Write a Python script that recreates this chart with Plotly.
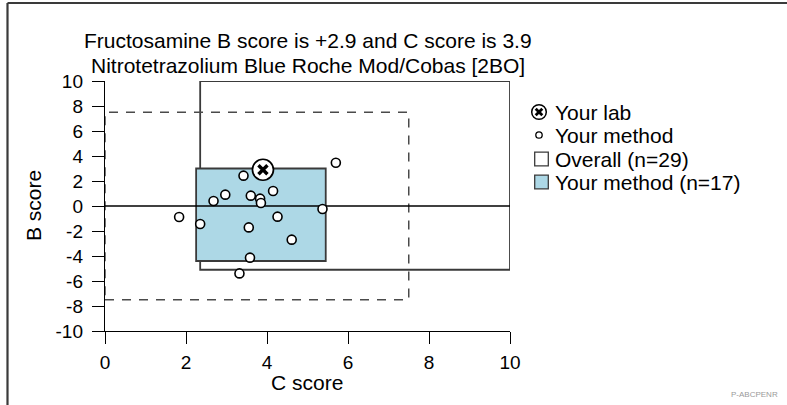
import plotly.graph_objects as go

# ---- data -------------------------------------------------------------
lab_c = [3.9]
lab_b = [2.9]

method_c = [5.70, 3.42, 2.97, 2.68, 3.60, 3.83, 3.85, 4.15, 1.83,
            2.35, 3.55, 4.26, 5.37, 4.61, 3.58, 3.32]
method_b = [3.46, 2.43, 0.91, 0.40, 0.83, 0.59, 0.24, 1.20, -0.88,
            -1.44, -1.71, -0.85, -0.24, -2.69, -4.13, -5.39]

overall_c_range = [2.35, 10.0]
overall_b_range = [-5.1, 10.0]
method_c_range = [2.25, 5.45]
method_b_range = [-4.4, 3.0]
limit_c_range = [0.0, 7.5]
limit_b_range = [-7.5, 7.5]

x_ticks = [0, 2, 4, 6, 8, 10]
x_tick_labels = ["0", "2", "4", "6", "8", "10"]
y_ticks = [-10, -8, -6, -4, -2, 0, 2, 4, 6, 8, 10]
y_tick_labels = ["-10", "-8", "-6", "-4", "-2", "0", "2", "4", "6", "8", "10"]

title_lines = ["Fructosamine B score is +2.9 and C score is 3.9",
               "Nitrotetrazolium Blue Roche Mod/Cobas [2BO]"]
legend_labels = ["Your lab", "Your method", "Overall (n=29)", "Your method (n=17)"]

# ---- layout geometry ----------------------------------------------------
W, H = 787, 405
L, R, T, B = 105, 277, 81, 74
PW, PH = W - L - R, H - T - B
FONT = "Liberation Sans, Arial, Helvetica, sans-serif"
BOX_BLUE = "#ADD8E6"
INK = "#3a3a3a"
TXT = 21


def px_x(p):
    return (p - L) / PW


def px_y(p):
    return (H - B - p) / PH


fig = go.Figure()

# your-method points
fig.add_trace(go.Scatter(
    x=method_c, y=method_b, mode="markers", showlegend=False,
    marker=dict(symbol="circle", size=9, color="white",
                line=dict(color="black", width=1.6)),
    hoverinfo="skip"))

# your lab: circled cross
fig.add_trace(go.Scatter(
    x=lab_c, y=lab_b, mode="markers", showlegend=False,
    marker=dict(symbol="circle", size=21, color="white",
                line=dict(color="black", width=1.7)),
    hoverinfo="skip"))
fig.add_trace(go.Scatter(
    x=lab_c, y=lab_b, mode="markers", showlegend=False,
    marker=dict(symbol="x-thin", size=9, color="black",
                line=dict(color="black", width=3.4)),
    hoverinfo="skip"))

shapes = []
# overall box
shapes.append(dict(type="rect", xref="x", yref="y", layer="below",
                   x0=overall_c_range[0], x1=overall_c_range[1],
                   y0=overall_b_range[0], y1=overall_b_range[1],
                   line=dict(color=INK, width=1.8), fillcolor="rgba(0,0,0,0)"))
# acceptance limits (dashed)
shapes.append(dict(type="rect", xref="x", yref="y", layer="below",
                   x0=limit_c_range[0], x1=limit_c_range[1],
                   y0=limit_b_range[0], y1=limit_b_range[1],
                   line=dict(color="#4a4a4a", width=1.5, dash="9px,8px"),
                   fillcolor="rgba(0,0,0,0)"))
# your-method box
shapes.append(dict(type="rect", xref="x", yref="y", layer="below",
                   x0=method_c_range[0], x1=method_c_range[1],
                   y0=method_b_range[0], y1=method_b_range[1],
                   line=dict(color=INK, width=1.8), fillcolor=BOX_BLUE))
# zero reference line
shapes.append(dict(type="line", xref="x", yref="y", layer="below",
                   x0=0, x1=10, y0=0, y1=0,
                   line=dict(color="black", width=1.5)))

# page frame (top and left edges)
shapes.append(dict(type="line", xref="paper", yref="paper",
                   x0=px_x(7.5), x1=px_x(W + 5), y0=px_y(3), y1=px_y(3),
                   line=dict(color=INK, width=2.2)))
shapes.append(dict(type="line", xref="paper", yref="paper",
                   x0=px_x(7.5), x1=px_x(7.5), y0=px_y(3), y1=px_y(H + 5),
                   line=dict(color=INK, width=2.2)))

# legend keys
rows = [112, 135, 159, 182]
ky = [px_y(r) for r in rows]
cx = px_x(539)
sx = px_x(541.5)
# circled cross
shapes.append(dict(type="circle", xref="paper", yref="paper",
                   xsizemode="pixel", ysizemode="pixel",
                   xanchor=cx, yanchor=ky[0], x0=-7.3, x1=7.3, y0=-7.3, y1=7.3,
                   line=dict(color="black", width=1.5), fillcolor="white"))
for s in (1, -1):
    shapes.append(dict(type="line", xref="paper", yref="paper",
                       xsizemode="pixel", ysizemode="pixel",
                       xanchor=cx, yanchor=ky[0], x0=-3.3, x1=3.3,
                       y0=-3.3 * s, y1=3.3 * s,
                       line=dict(color="black", width=2.8)))
# small open circle
shapes.append(dict(type="circle", xref="paper", yref="paper",
                   xsizemode="pixel", ysizemode="pixel",
                   xanchor=cx, yanchor=ky[1], x0=-3.2, x1=3.2, y0=-3.2, y1=3.2,
                   line=dict(color="black", width=1.3), fillcolor="white"))
# open square
shapes.append(dict(type="rect", xref="paper", yref="paper",
                   xsizemode="pixel", ysizemode="pixel",
                   xanchor=sx, yanchor=ky[2], x0=-6.8, x1=6.8, y0=-6.8, y1=6.8,
                   line=dict(color=INK, width=1.3), fillcolor="white"))
# filled square
shapes.append(dict(type="rect", xref="paper", yref="paper",
                   xsizemode="pixel", ysizemode="pixel",
                   xanchor=sx, yanchor=ky[3], x0=-6.8, x1=6.8, y0=-6.8, y1=6.8,
                   line=dict(color=INK, width=1.3), fillcolor=BOX_BLUE))

annotations = []
for label, yv in zip(legend_labels, ky):
    annotations.append(dict(text=label, xref="paper", yref="paper",
                            x=px_x(553), y=yv, xanchor="left", yanchor="middle",
                            showarrow=False, font=dict(size=TXT, color="black", family=FONT)))

# title, one annotation per line
for line, ypx in zip(title_lines, [40.5, 65.5]):
    annotations.append(dict(text=line, xref="paper", yref="paper",
                            x=px_x(308), y=px_y(ypx), xanchor="center", yanchor="middle",
                            showarrow=False, font=dict(size=TXT, color="black", family=FONT)))
# axis titles
annotations.append(dict(text="C score", xref="paper", yref="paper",
                        x=px_x(307), y=px_y(382), xanchor="center", yanchor="middle",
                        showarrow=False, font=dict(size=TXT, color="black", family=FONT)))
annotations.append(dict(text="B score", xref="paper", yref="paper",
                        x=px_x(33), y=px_y(206), xanchor="center", yanchor="middle",
                        textangle=-90, showarrow=False,
                        font=dict(size=TXT, color="black", family=FONT)))
# footer code
annotations.append(dict(text="P-ABCPENR", xref="paper", yref="paper",
                        x=px_x(754), y=px_y(394), xanchor="center", yanchor="middle",
                        showarrow=False, font=dict(size=8, color="#9a9a9a", family=FONT)))

axis_common = dict(showgrid=False, zeroline=False, showline=True,
                   linecolor="black", linewidth=1.4, ticks="outside",
                   ticklen=12, tickwidth=1.4, tickcolor="black",
                   tickfont=dict(size=19, color="black", family=FONT),
                   fixedrange=True)

fig.update_layout(
    width=W, height=H,
    margin=dict(l=L, r=R, t=T, b=B, pad=0),
    paper_bgcolor="white", plot_bgcolor="white",
    showlegend=False,
    xaxis=dict(range=[0, 10], tickvals=x_ticks, ticktext=x_tick_labels,
               ticklabelstandoff=2, **axis_common),
    yaxis=dict(range=[-10, 10], tickvals=y_ticks, ticktext=y_tick_labels,
               ticklabelstandoff=5, **axis_common),
    shapes=shapes, annotations=annotations,
    font=dict(family=FONT),
)

fig.write_html("out.html", config={"displayModeBar": False})
